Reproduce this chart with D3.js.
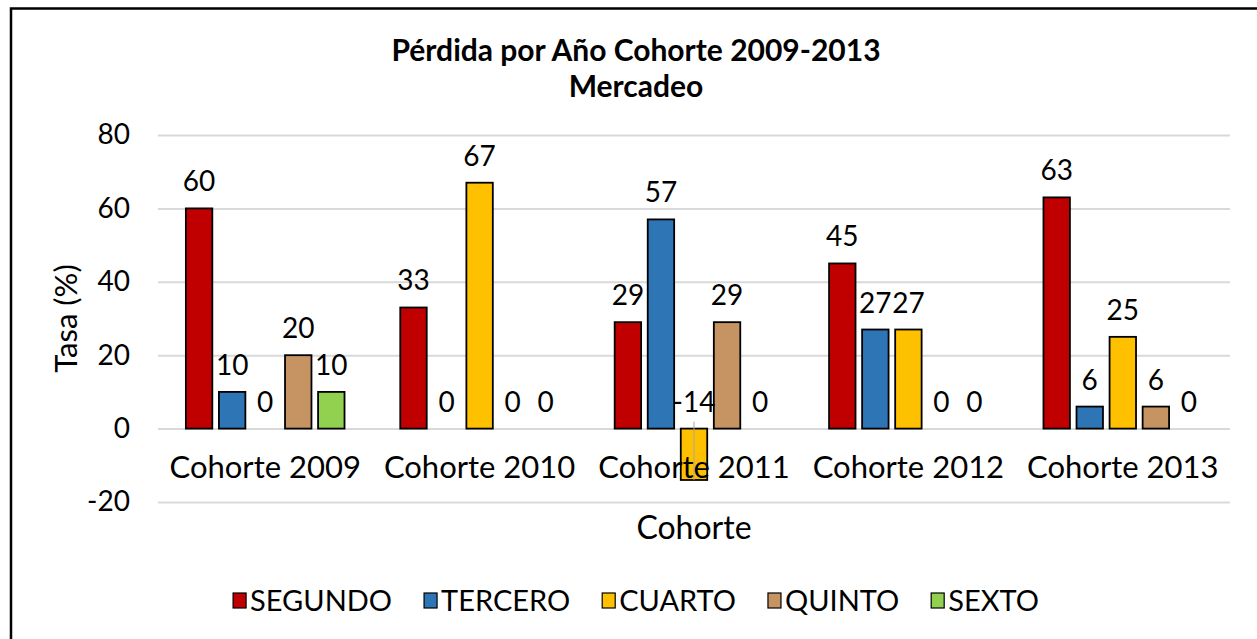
<!DOCTYPE html>
<html>
<head>
<meta charset="utf-8">
<script src="https://cdn.jsdelivr.net/npm/d3@7"></script>
<style>
  html, body { margin: 0; padding: 0; background: #fff; }
  svg { display: block; font-family: "Lato", "DejaVu Sans", sans-serif; }
</style>
</head>
<body>
<svg id="chart" width="1257" height="639"></svg>
<script>
// Cohort categories and yearly loss rates (%) per series
const categories = ["Cohorte 2009", "Cohorte 2010", "Cohorte 2011", "Cohorte 2012", "Cohorte 2013"];
const seriesNames = ["SEGUNDO", "TERCERO", "CUARTO", "QUINTO", "SEXTO"];
const segundo = [60, 33, 29, 45, 63];
const tercero = [10, 0, 57, 27, 6];
const cuarto  = [0, 67, -14, 27, 25];
const quinto  = [20, 0, 29, 0, 6];
const sexto   = [10, 0, 0, 0, 0];
const yTicks = [-20, 0, 20, 40, 60, 80];
const seriesColors = ["#C00000", "#2E75B6", "#FFC000", "#C69462", "#92D050"];

const seriesValues = [segundo, tercero, cuarto, quinto, sexto];

const svg = d3.select("#chart");
const W = 1257, H = 639;

// Chart frame
svg.append("rect")
  .attr("x", 11).attr("y", 8.5)
  .attr("width", W + 20).attr("height", H + 20)
  .attr("fill", "#fff").attr("stroke", "#000").attr("stroke-width", 2.5);

// Plot area
const plot = { left: 158, right: 1230, top: 135, bottom: 502 };

const x0 = d3.scaleBand().domain(categories).range([plot.left, plot.right]).padding(0);
const x1 = d3.scaleBand().domain(seriesNames)
  .range([x0.bandwidth() * 0.13, x0.bandwidth() * 0.87])
  .paddingInner(0.2).paddingOuter(0);
const y = d3.scaleLinear().domain([-20, 80]).range([plot.bottom, plot.top]);

// Title
const title = svg.append("text")
  .attr("text-anchor", "middle")
  .attr("font-weight", "bold").attr("font-size", 30)
  .attr("fill", "#000");
title.append("tspan").attr("x", 636).attr("y", 61).text("Pérdida por Año Cohorte 2009-2013");
title.append("tspan").attr("x", 636).attr("y", 97).text("Mercadeo");

// Gridlines and y tick labels
const yAxis = d3.axisLeft(y)
  .tickValues(yTicks)
  .tickSize(-(plot.right - plot.left))
  .tickPadding(28)
  .tickFormat(d => String(d));
const gy = svg.append("g").attr("transform", `translate(${plot.left},0)`).call(yAxis);
gy.select(".domain").remove();
gy.selectAll(".tick line").attr("stroke", "#d9d9d9").attr("stroke-width", 2);
gy.selectAll(".tick text").attr("font-size", 28).attr("fill", "#000")
  .attr("font-family", "Lato, sans-serif");

// Bars
const groups = svg.append("g").selectAll("g")
  .data(categories)
  .join("g")
  .attr("transform", d => `translate(${x0(d)},0)`);

const cells = (ci) => seriesNames.map((s, si) => ({ s, si, v: seriesValues[si][ci] }));

groups.each(function (cat, ci) {
  const g = d3.select(this);
  const data = cells(ci);

  g.selectAll("rect")
    .data(data.filter(d => d.v !== 0))
    .join("rect")
    .attr("x", d => x1(d.s))
    .attr("width", x1.bandwidth())
    .attr("y", d => y(Math.max(0, d.v)))
    .attr("height", d => Math.abs(y(d.v) - y(0)))
    .attr("fill", d => seriesColors[d.si])
    .attr("stroke", "#000").attr("stroke-width", 1.8);

  // Leader line for the negative value label
  g.selectAll("line.leader")
    .data(data.filter(d => d.v < 0))
    .join("line")
    .attr("class", "leader")
    .attr("x1", d => x1(d.s) + x1.bandwidth() / 2)
    .attr("x2", d => x1(d.s) + x1.bandwidth() / 2)
    .attr("y1", y(0) - 7)
    .attr("y2", d => y(d.v))
    .attr("stroke", "#a6a6a6").attr("stroke-width", 1);

  g.selectAll("text.val")
    .data(data)
    .join("text")
    .attr("class", "val")
    .attr("x", d => x1(d.s) + x1.bandwidth() / 2)
    .attr("y", d => y(Math.max(0, d.v)) - 17)
    .attr("text-anchor", "middle")
    .attr("font-size", 28)
    .attr("fill", "#000")
    .text(d => d.v);
});

// Category axis along the zero line
const xAxis = d3.axisBottom(x0).tickSize(0).tickPadding(27);
const gx = svg.append("g").attr("transform", `translate(0,${y(0)})`).call(xAxis);
gx.select(".domain").remove();
gx.selectAll(".tick text").attr("font-size", 31).attr("fill", "#000")
  .attr("font-family", "Lato, sans-serif");

// Axis titles
svg.append("text")
  .attr("transform", `translate(77,${(plot.top + plot.bottom) / 2}) rotate(-90)`)
  .attr("text-anchor", "middle")
  .attr("font-size", 31).attr("fill", "#000")
  .text("Tasa (%)");

svg.append("text")
  .attr("x", (plot.left + plot.right) / 2).attr("y", 539)
  .attr("text-anchor", "middle")
  .attr("font-size", 32).attr("fill", "#000")
  .text("Cohorte");

// Legend
const legend = svg.append("g");
const items = legend.selectAll("g").data(seriesNames).join("g");
items.append("rect")
  .attr("width", 13).attr("height", 15)
  .attr("y", -8)
  .attr("fill", (d, i) => seriesColors[i])
  .attr("stroke", "#000").attr("stroke-width", 1.2);
items.append("text")
  .attr("x", 17).attr("y", 10)
  .attr("font-size", 29).attr("fill", "#000")
  .text(d => d);
let cx = 0;
const offsets = [];
items.each(function () {
  offsets.push(cx);
  const w = d3.select(this).select("text").node().getComputedTextLength();
  cx += 17 + w + 32;
});
const total = cx - 32;
const start = 636 - total / 2;
items.attr("transform", (d, i) => `translate(${start + offsets[i]},601)`);
</script>
</body>
</html>
